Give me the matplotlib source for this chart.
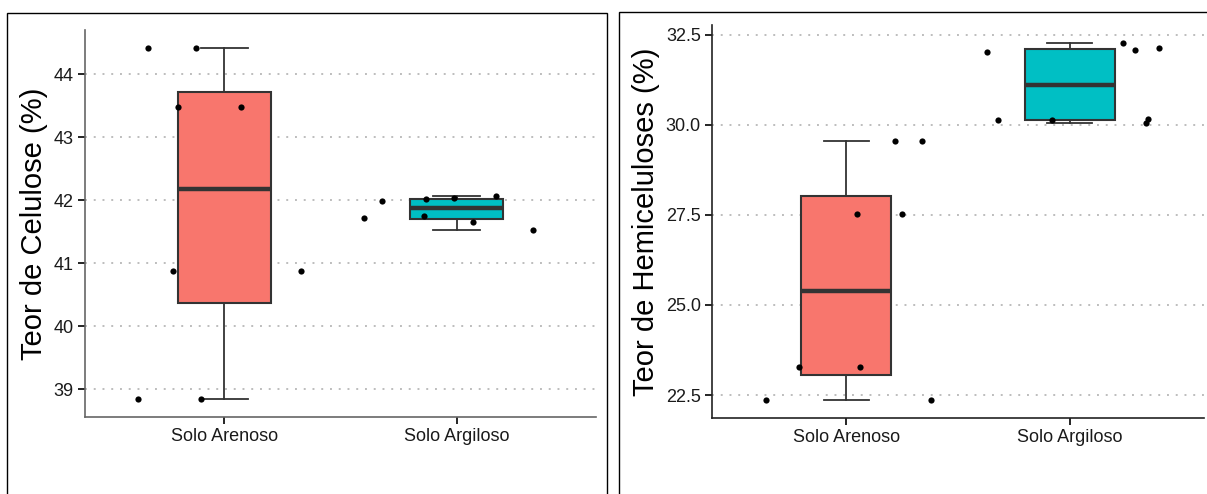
import numpy as np
import matplotlib
matplotlib.use("Agg")
import matplotlib.pyplot as plt
from matplotlib.patches import Rectangle

plt.rcParams['font.family'] = ['Liberation Sans', 'DejaVu Sans']

# categories
cats = ['Solo Arenoso', 'Solo Argiloso']
fill_colors = ['#F8766D', '#00BFC4']

# Teor de Celulose (%)
cel_arenoso = [44.42, 44.42, 43.48, 43.48, 40.88, 40.88, 38.84, 38.84]
cel_argiloso = [41.99, 41.72, 42.02, 41.75, 42.03, 41.66, 42.06, 41.52]
# horizontal jitter of the points (category units)
cel_jit_arenoso = [-0.33, -0.12, -0.20, 0.07, -0.22, 0.33, -0.37, -0.10]
cel_jit_argiloso = [-0.32, -0.40, -0.13, -0.14, -0.01, 0.07, 0.17, 0.33]
cel_ticks = [39, 40, 41, 42, 43, 44]

# Teor de Hemiceluloses (%)
hem_arenoso = [22.36, 23.28, 27.52, 23.28, 29.55, 27.52, 29.55, 22.36]
hem_argiloso = [32.03, 30.12, 30.12, 32.27, 32.08, 30.06, 30.15, 32.13]
hem_jit_arenoso = [-0.36, -0.21, 0.05, 0.06, 0.22, 0.25, 0.34, 0.38]
hem_jit_argiloso = [-0.37, -0.32, -0.08, 0.24, 0.29, 0.34, 0.35, 0.40]
hem_ticks = [22.5, 25.0, 27.5, 30.0, 32.5]


def draw_panel(ax, groups, jitters, ticks, ylabel, fmt, spine_color):
    pos = np.arange(1, len(groups) + 1)
    bp = ax.boxplot(groups, positions=pos, widths=0.4, capwidths=0.2,
                    patch_artist=True, showfliers=False, zorder=3,
                    boxprops=dict(edgecolor='#333333', linewidth=1.5),
                    medianprops=dict(color='#333333', linewidth=3.2),
                    whiskerprops=dict(color='#333333', linewidth=1.3),
                    capprops=dict(color='#333333', linewidth=1.3))
    for patch, c in zip(bp['boxes'], fill_colors):
        patch.set_facecolor(c)

    for p, vals, jit in zip(pos, groups, jitters):
        ax.scatter(p + np.array(jit), vals, s=20, color='black',
                   zorder=5, linewidths=0)

    allv = np.concatenate([np.array(g) for g in groups])
    lo, hi = allv.min(), allv.max()
    pad = (hi - lo) * 0.05
    ax.set_ylim(lo - pad, hi + pad)
    ax.set_xlim(0.4, len(groups) + 0.6)

    ax.set_yticks(ticks)
    ax.set_yticklabels([fmt % t for t in ticks])
    ax.set_xticks(pos)
    ax.set_xticklabels(cats)
    ax.tick_params(axis='both', labelsize=13, length=5, width=1.2,
                   color='black', labelcolor='#1a1a1a', pad=3)

    ax.yaxis.grid(True, linestyle=(0, (1, 3.5)), linewidth=1.4,
                  color='#bdbdbd', zorder=0)
    ax.set_axisbelow(True)
    for s in ['top', 'right']:
        ax.spines[s].set_visible(False)
    for s in ['left', 'bottom']:
        ax.spines[s].set_color(spine_color)
        ax.spines[s].set_linewidth(1.2)
    ax.set_ylabel(ylabel, fontsize=21, labelpad=4)


fig = plt.figure(figsize=(12.07, 4.94), dpi=100)

ax1 = fig.add_axes([85 / 1207, 1 - 417 / 494, (596 - 85) / 1207, (417 - 30) / 494])
draw_panel(ax1, [cel_arenoso, cel_argiloso], [cel_jit_arenoso, cel_jit_argiloso],
           cel_ticks, 'Teor de Celulose (%)', '%d', '#666666')

ax2 = fig.add_axes([712 / 1207, 1 - 418 / 494, (1204 - 712) / 1207, (418 - 25) / 494])
draw_panel(ax2, [hem_arenoso, hem_argiloso], [hem_jit_arenoso, hem_jit_argiloso],
           hem_ticks, 'Teor de Hemiceluloses (%)', '%.1f', '#222222')

# panel frames
fig.add_artist(Rectangle((7 / 1207, -0.05), (607 - 7) / 1207, 1 - 13 / 494 + 0.05,
                         transform=fig.transFigure, fill=False,
                         edgecolor='black', linewidth=1.0))
fig.add_artist(Rectangle((619 / 1207, -0.05), 0.5, 1 - 12 / 494 + 0.05,
                         transform=fig.transFigure, fill=False,
                         edgecolor='black', linewidth=1.0))

fig.savefig('out.png', dpi=100)
